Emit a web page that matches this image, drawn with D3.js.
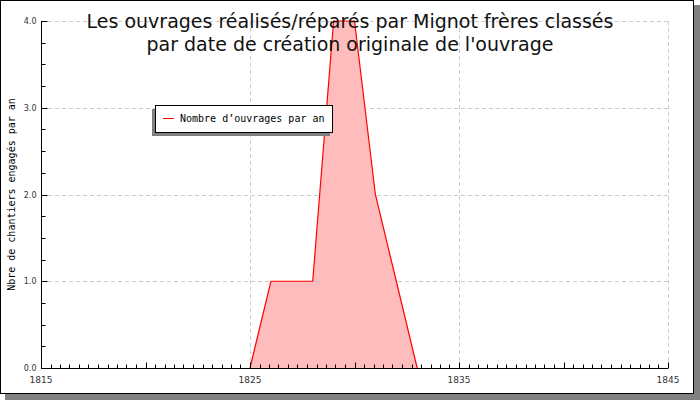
<!DOCTYPE html>
<html>
<head>
<meta charset="utf-8">
<script src="https://cdn.jsdelivr.net/npm/d3@7"></script>
<style>
  body { margin: 0; background: #fff; }
  svg text { font-family: "DejaVu Sans", sans-serif; }
  .mono { font-family: "DejaVu Sans Mono", monospace; }
</style>
</head>
<body>
<svg id="chart" width="700" height="400"></svg>
<script>
// data: number of works per year of original creation
const years = [1825, 1826, 1827, 1828, 1829, 1830, 1831, 1832, 1833];
const counts = [0, 1, 1, 1, 4, 4, 2, 1, 0];
const xTicks = [1815, 1825, 1835, 1845];
const yTicks = [0, 1, 2, 3, 4];
const titleLines = ["Les ouvrages réalisés/réparés par Mignot frères classés",
                    "par date de création originale de l'ouvrage"];
const legendLabel = "Nombre d’ouvrages par an";
const yTitle = "Nbre de chantiers engagés par an";

const svg = d3.select("#chart");
const margin = { top: 21, right: 32, bottom: 32, left: 41 };
const width = 700, height = 400;

// frame + shadow
svg.append("rect").attr("x", 5).attr("y", 5).attr("width", 695).attr("height", 395).attr("fill", "#808080");
svg.append("rect").attr("x", 0.5).attr("y", 0.5).attr("width", 693).attr("height", 393)
    .attr("fill", "#fff").attr("stroke", "#000");

const x = d3.scaleLinear().domain([1815, 1845]).range([margin.left, width - margin.right]);
const y = d3.scaleLinear().domain([0, 4]).range([height - margin.bottom, margin.top]);

// grid
const grid = svg.append("g").attr("stroke", "#ccc").attr("stroke-dasharray", "4,3");
grid.selectAll("line.h").data(yTicks.slice(1)).enter().append("line")
    .attr("x1", x(1815)).attr("x2", x(1845))
    .attr("y1", d => Math.round(y(d)) + 0.5).attr("y2", d => Math.round(y(d)) + 0.5);
grid.selectAll("line.v").data(xTicks.slice(1)).enter().append("line")
    .attr("x1", d => Math.round(x(d)) + 0.5).attr("x2", d => Math.round(x(d)) + 0.5)
    .attr("y1", y(4)).attr("y2", y(0));

// area
const pts = years.map((d, i) => [d, counts[i]]);
svg.append("path").datum(pts)
    .attr("fill", "#ffbcbc")
    .attr("d", d3.area().x(d => x(d[0])).y0(y(0)).y1(d => y(d[1])));
svg.append("path").datum(pts)
    .attr("fill", "none").attr("stroke", "red").attr("stroke-width", 1.2)
    .attr("d", d3.line().x(d => x(d[0])).y(d => y(d[1])));

// x axis
const xMinor = d3.range(0, 67).map(i => 1815 + i * 5 / 11);
const xa = svg.append("g").attr("transform", `translate(0,${Math.round(y(0)) + 0.5})`);
xa.append("line").attr("x1", x(1815)).attr("x2", x(1845)).attr("stroke", "#000");
xa.selectAll("line.t").data(xMinor).enter().append("line")
    .attr("x1", d => Math.round(x(d)) + 0.5).attr("x2", d => Math.round(x(d)) + 0.5)
    .attr("y1", 0).attr("y2", (d, i) => i % 11 === 0 ? -6 : -4).attr("stroke", "#000");
xa.selectAll("text").data(xTicks).enter().append("text")
    .attr("x", d => x(d)).attr("y", 14).attr("text-anchor", "middle")
    .attr("font-size", 9).attr("fill", "#333").text(d => d);

// y axis
const yMinor = d3.range(0, 17).map(i => i * 0.25);
const ya = svg.append("g").attr("transform", `translate(${Math.round(x(1815)) + 0.5},0)`);
ya.append("line").attr("y1", y(0)).attr("y2", y(4)).attr("stroke", "#000");
ya.selectAll("line.t").data(yMinor).enter().append("line")
    .attr("y1", d => Math.round(y(d)) + 0.5).attr("y2", d => Math.round(y(d)) + 0.5)
    .attr("x1", 0).attr("x2", (d, i) => i % 4 === 0 ? 6 : 4).attr("stroke", "#000");
ya.selectAll("text").data(yTicks).enter().append("text")
    .attr("x", -5).attr("y", d => y(d) + 3).attr("text-anchor", "end")
    .attr("font-size", 8).attr("fill", "#333").text(d => d.toFixed(1));

// y title
svg.append("text").attr("class", "mono")
    .attr("transform", `translate(15,${y(2)}) rotate(-90)`)
    .attr("text-anchor", "middle").attr("font-size", 10).text(yTitle);

// title
svg.append("g").selectAll("text").data(titleLines).enter().append("text")
    .attr("x", 350).attr("y", (d, i) => 28 + i * 23).attr("text-anchor", "middle")
    .attr("font-size", 19).attr("fill", "#111").text(d => d);

// legend
const lg = svg.append("g").attr("transform", "translate(155,105)");
lg.append("rect").attr("x", -3).attr("y", 4).attr("width", 178).attr("height", 27).attr("fill", "#808080");
lg.append("rect").attr("x", 0.5).attr("y", 0.5).attr("width", 177).attr("height", 27)
    .attr("fill", "#fff").attr("stroke", "#000");
lg.append("line").attr("x1", 8).attr("x2", 19).attr("y1", 13.5).attr("y2", 13.5).attr("stroke", "red");
lg.append("text").attr("class", "mono").attr("x", 25).attr("y", 17)
    .attr("font-size", 10).text(legendLabel);
</script>
</body>
</html>
